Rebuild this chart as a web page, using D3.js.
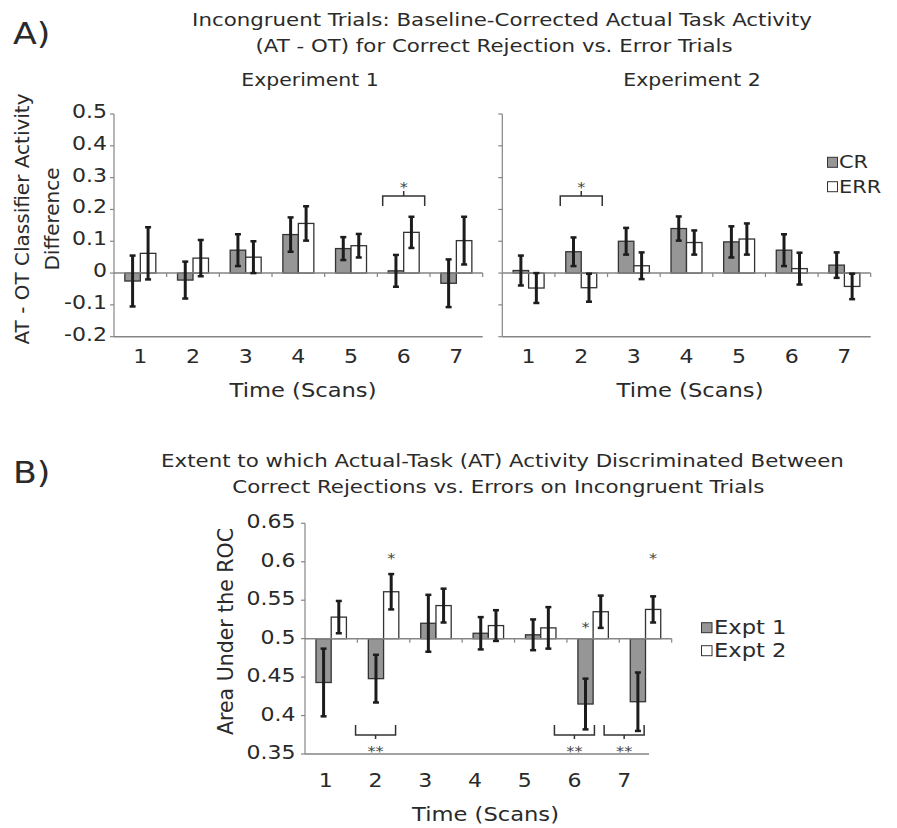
<!DOCTYPE html>
<meta charset="utf-8">
<style>
	body { margin: 0; background: #fff; }
	svg text { font-family: "DejaVu Sans", Verdana, sans-serif; fill: #2a2a2a; }
</style>
<body>
<svg id="chart" width="897" height="828"></svg>
<script src="https://cdn.jsdelivr.net/npm/d3@7"></script>
<script>
	// ---- data ----
	var scans = ["1", "2", "3", "4", "5", "6", "7"];

	// panel A, AT - OT difference
	var exp1CR     = [-0.025, -0.022, 0.072, 0.121, 0.077, 0.007, -0.032];
	var exp1CRErr  = [0.080, 0.058, 0.050, 0.054, 0.036, 0.050, 0.075];
	var exp1ERR    = [0.062, 0.047, 0.050, 0.156, 0.086, 0.128, 0.102];
	var exp1ERRErr = [0.082, 0.057, 0.050, 0.054, 0.037, 0.049, 0.075];

	var exp2CR     = [0.008, 0.067, 0.100, 0.140, 0.098, 0.072, 0.025];
	var exp2CRErr  = [0.047, 0.045, 0.042, 0.038, 0.049, 0.050, 0.040];
	var exp2ERR    = [-0.047, -0.046, 0.023, 0.096, 0.107, 0.014, -0.042];
	var exp2ERRErr = [0.047, 0.044, 0.042, 0.038, 0.049, 0.050, 0.040];

	// panel B, area under the ROC
	var aucExpt1    = [0.443, 0.448, 0.520, 0.507, 0.505, 0.415, 0.418];
	var aucExpt1Err = [0.044, 0.031, 0.037, 0.021, 0.020, 0.033, 0.038];
	var aucExpt2    = [0.528, 0.561, 0.543, 0.517, 0.514, 0.535, 0.538];
	var aucExpt2Err = [0.021, 0.023, 0.022, 0.020, 0.027, 0.021, 0.017];

	var yTicksA = [-0.2, -0.1, 0, 0.1, 0.2, 0.3, 0.4, 0.5];
	var yTickLabelsA = ["-0.2", "-0.1", "0", "0.1", "0.2", "0.3", "0.4", "0.5"];
	var yTicksB = [0.35, 0.4, 0.45, 0.5, 0.55, 0.6, 0.65];
	var yTickLabelsB = ["0.35", "0.4", "0.45", "0.5", "0.55", "0.6", "0.65"];

	var legendA = ["CR", "ERR"];
	var legendB = ["Expt 1", "Expt 2"];

	// significance marks
	var sigExp1 = ["6"];            // bracket, one star
	var sigExp2 = ["2"];
	var sigB = ["2", "6", "7"];      // bracket below, two stars
	var starsB = [ {scan: "2", s: 1, level: 0.609}, {scan: "7", s: 1, level: 0.609}, {scan: "6", s: 0, level: 0.519} ];

	// ---- drawing ----
	var SX = 1.16;  // the original is stretched sideways a bit
	var svg = d3.select("#chart");
	var gray = "#969696", axisCol = "#858585", ink = "#1c1c1c";

	function label(x, y, str, size, anchor, rot) {
		return svg.append("text")
			.attr("transform", "translate(" + x + "," + y + ")" + (rot ? " rotate(-90)" : " scale(" + SX + ",1)"))
			.attr("text-anchor", anchor || "start")
			.style("font-size", size + "px")
			.text(str);
	}

	function barPanel(x0, x1, y, base, series, errs, pad) {
		var x = d3.scaleBand().domain(scans).range([x0, x1]);
		var inner = d3.scaleBand().domain([0, 1]).range([0, x.bandwidth()]).paddingInner(0).paddingOuter(pad);
		var g = svg.append("g");

		// y axis
		g.append("line").attr("x1", x0).attr("x2", x0).attr("y1", y.range()[1]).attr("y2", y.range()[0])
			.attr("stroke", axisCol).attr("stroke-width", 1.2);
		g.selectAll(".yt").data(y.__ticks).enter().append("line")
			.attr("x1", x0 - 4).attr("x2", x0).attr("y1", function (d) { return y(d); }).attr("y2", function (d) { return y(d); })
			.attr("stroke", axisCol).attr("stroke-width", 1.2);

		// bars
		series.forEach(function (vals, s) {
			g.selectAll(".b" + s).data(vals).enter().append("rect")
				.attr("x", function (d, i) { return x(scans[i]) + inner(s); })
				.attr("width", inner.bandwidth())
				.attr("y", function (d) { return Math.min(y(d), y(base)); })
				.attr("height", function (d) { return Math.abs(y(d) - y(base)); })
				.attr("fill", s == 0 ? gray : "#fff")
				.attr("stroke", "#333").attr("stroke-width", 1.3);
		});

		// base line with category ticks
		g.append("line").attr("x1", x0).attr("x2", x1).attr("y1", y(base)).attr("y2", y(base))
			.attr("stroke", axisCol).attr("stroke-width", 1.5);
		g.selectAll(".xt").data(d3.range(1, scans.length + 1)).enter().append("line")
			.attr("x1", function (i) { return x0 + i * x.step(); }).attr("x2", function (i) { return x0 + i * x.step(); })
			.attr("y1", y(base)).attr("y2", y(base) + 4)
			.attr("stroke", axisCol).attr("stroke-width", 1.2);

		// error bars
		series.forEach(function (vals, s) {
			vals.forEach(function (v, i) {
				var cx = x(scans[i]) + inner(s) + inner.bandwidth() / 2;
				var e = errs[s][i];
				g.append("line").attr("x1", cx).attr("x2", cx).attr("y1", y(v - e)).attr("y2", y(v + e))
					.attr("stroke", ink).attr("stroke-width", 3);
				[v - e, v + e].forEach(function (w) {
					g.append("line").attr("x1", cx - 3).attr("x2", cx + 3).attr("y1", y(w)).attr("y2", y(w))
						.attr("stroke", ink).attr("stroke-width", 2.5);
				});
			});
		});
		return {x: x, inner: inner};
	}

	function star(x, y, str) {
		svg.append("text").attr("transform", "translate(" + x + "," + y + ") scale(" + SX + ",1)")
			.attr("text-anchor", "middle").style("font-size", "14px").style("fill", "#444").text(str);
	}

	// ---------- panel A ----------
	var yA = d3.scaleLinear().domain([-0.2, 0.5]).range([336.7, 114]);
	yA.__ticks = yTicksA;

	label(13, 43.5, "A)", 30);
	label(502, 26, "Incongruent Trials: Baseline-Corrected Actual Task Activity", 18.4, "middle");
	label(494, 51.5, "(AT - OT) for Correct Rejection vs. Error Trials", 18.4, "middle");
	label(310, 86, "Experiment 1", 17.6, "middle");
	label(692, 86, "Experiment 2", 17.6, "middle");
	label(28.5, 219, "AT - OT Classifier Activity", 20, "middle", true);
	label(58.5, 219, "Difference", 20, "middle", true);

	var pA1 = barPanel(114, 482.7, yA, 0, [exp1CR, exp1ERR], [exp1CRErr, exp1ERRErr], 0.7);
	var pA2 = barPanel(502.3, 870.7, yA, 0, [exp2CR, exp2ERR], [exp2CRErr, exp2ERRErr], 0.7);

	[[114, 482.7], [502.3, 870.7]].forEach(function (r) {
		svg.append("line").attr("x1", r[0]).attr("x2", r[1]).attr("y1", yA(-0.2)).attr("y2", yA(-0.2))
			.attr("stroke", axisCol).attr("stroke-width", 1.5);
	});

	yTicksA.forEach(function (t, i) {
		label(107, yA(t) + 4, yTickLabelsA[i], 19, "end");
	});
	[pA1, pA2].forEach(function (p, k) {
		scans.forEach(function (s) { label(p.x(s) + p.x.bandwidth() / 2, 363, s, 19, "middle"); });
		label(k == 0 ? 303 : 690, 397, "Time (Scans)", 19.5, "middle");
	});

	// brackets, panel A
	[[pA1, sigExp1], [pA2, sigExp2]].forEach(function (pr) {
		pr[1].forEach(function (s) {
			var cx = pr[0].x(s) + pr[0].x.bandwidth() / 2, top = yA(0.242), w = 21;
			svg.append("path")
				.attr("d", "M" + (cx - w) + "," + (top + 10) + "V" + top + "H" + (cx + w) + "V" + (top + 10) + "M" + cx + "," + top + "V" + (top - 5))
				.attr("fill", "none").attr("stroke", "#333").attr("stroke-width", 1.5);
			star(cx, top - 4, "*");
		});
	});

	// legend A
	legendA.forEach(function (n, i) {
		svg.append("rect").attr("x", 827.5).attr("y", 157.3 + i * 24.4).attr("width", 10).attr("height", 10)
			.attr("fill", i == 0 ? gray : "#fff").attr("stroke", "#333").attr("stroke-width", 1);
		label(839, 168.3 + i * 24.4, n, 18);
	});

	// ---------- panel B ----------
	var yB = d3.scaleLinear().domain([0.35, 0.65]).range([754, 523.3]);
	yB.__ticks = yTicksB;

	label(13, 482.7, "B)", 30);
	label(502.5, 467.3, "Extent to which Actual-Task (AT) Activity Discriminated Between", 18.4, "middle");
	label(498.3, 493.3, "Correct Rejections vs. Errors on Incongruent Trials", 18.4, "middle");
	label(233, 631.5, "Area Under the ROC", 20.5, "middle", true);

	var pB = barPanel(305, 671.7, yB, 0.5, [aucExpt1, aucExpt2], [aucExpt1Err, aucExpt2Err], 0.72);
	svg.append("line").attr("x1", 305).attr("x2", 649).attr("y1", yB(0.35)).attr("y2", yB(0.35))
		.attr("stroke", axisCol).attr("stroke-width", 1.5);

	yTicksB.forEach(function (t, i) {
		label(295.5, yB(t) + 5, yTickLabelsB[i], 19, "end");
	});
	// the category labels sit on a slightly narrower axis than the bars
	var xLabB = d3.scaleBand().domain(scans).range([301, 649]);
	scans.forEach(function (s) { label(xLabB(s) + xLabB.bandwidth() / 2, 786.7, s, 19, "middle"); });
	label(485.5, 821, "Time (Scans)", 19.5, "middle");

	sigB.forEach(function (s) {
		var cx = xLabB(s) + xLabB.bandwidth() / 2, bot = 735, w = 20;
		svg.append("path")
			.attr("d", "M" + (cx - w) + "," + (bot - 10) + "V" + bot + "H" + (cx + w) + "V" + (bot - 10) + "M" + cx + "," + bot + "V" + (bot + 4))
			.attr("fill", "none").attr("stroke", "#333").attr("stroke-width", 1.5);
		star(cx, 755.5, "**");
	});
	starsB.forEach(function (d) {
		var cx = pB.x(d.scan) + pB.inner(d.s) + pB.inner.bandwidth() / 2;
		star(cx, yB(d.level) + 8, "*");
	});

	// legend B
	legendB.forEach(function (n, i) {
		svg.append("rect").attr("x", 701.5).attr("y", 622.7 + i * 23).attr("width", 10.5).attr("height", 10)
			.attr("fill", i == 0 ? gray : "#fff").attr("stroke", "#333").attr("stroke-width", 1);
		label(714, 634 + i * 23, n, 19.5);
	});
</script>
</body>
